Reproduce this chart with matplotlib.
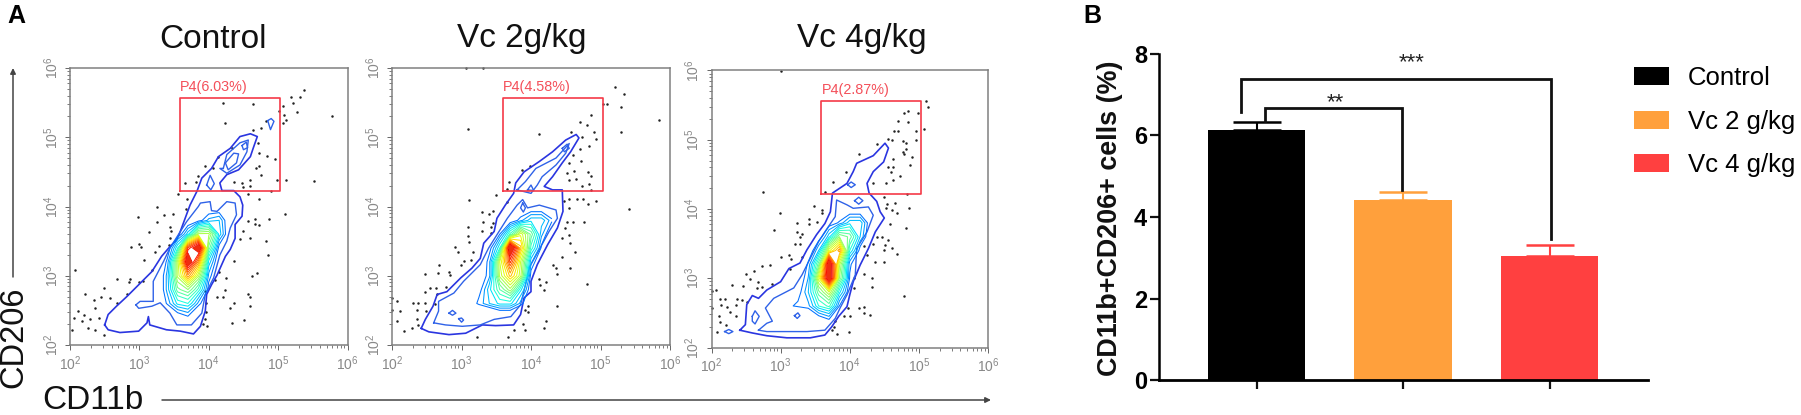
import matplotlib
matplotlib.use('Agg')
import matplotlib.pyplot as plt
import numpy as np
from matplotlib.patches import FancyArrowPatch

plt.rcParams['font.family'] = ['Liberation Sans', 'DejaVu Sans']

W, H = 1801, 415

# flow panels: every value is log10 of the fluorescence
titles = ['Control', 'Vc 2g/kg', 'Vc 4g/kg']
gate_labels = ['P4(6.03%)', 'P4(4.58%)', 'P4(2.87%)']
gate_x = [3.59, 5.03]
gate_y = [4.22, 5.56]
tick_exps = [2, 3, 4, 5, 6]

control_dots = [
  (5.37,5.68),(5.18,5.58),(5.31,5.58),(5.22,5.49),(5.01,5.38),(5.07,5.45),(4.21,5.50),(4.64,5.48),(5.27,5.36),
  (5.09,5.32),(5.77,5.30),(5.11,5.25),(5.07,5.20),(4.24,5.20),(4.82,5.23),(4.76,5.14),(4.64,5.10),(4.71,4.91),
  (4.72,4.77),(4.84,4.73),(4.95,4.69),(4.68,4.55),(4.73,4.58),(4.75,4.46),(4.98,4.38),(5.11,4.38),(5.52,4.37),
  (4.60,4.38),(4.59,4.30),(4.48,4.34),(4.49,4.28),(4.36,4.35),(4.90,4.23),(4.57,4.18),(4.72,4.11),(3.66,4.34),
  (3.85,4.44),(3.94,4.59),(4.06,4.56),(4.13,4.71),(4.33,4.85),(3.56,4.18),(3.82,4.36),(3.68,4.11),(3.26,3.99),
  (2.98,3.85),(3.35,3.88),(3.49,3.89),(3.67,3.96),(5.10,3.89),(4.87,3.82),(4.57,3.79),(4.66,3.82),(4.67,3.75),
  (4.72,3.74),(4.50,3.65),(3.26,3.78),(3.14,3.63),(3.44,3.71),(3.46,3.65),(3.44,3.54),(4.45,3.53),(4.60,3.54),
  (4.82,3.50),(2.88,3.42),(3.00,3.46),(3.02,3.41),(3.28,3.43),(3.43,3.45),(3.23,3.34),(3.07,3.23),(3.18,3.09),
  (2.07,3.09),(4.85,3.30),(4.36,3.21),(4.70,3.04),(4.63,2.99),(2.68,2.96),(2.87,2.96),(2.85,2.91),(2.99,2.91),
  (3.05,2.92),(4.15,3.06),(4.25,2.97),(4.09,2.94),(2.49,2.82),(4.24,2.80),(2.21,2.74),(2.82,2.74),(2.45,2.70),
  (2.35,2.65),(2.58,2.68),(2.36,2.53),(2.68,2.60),(4.21,2.70),(4.12,2.70),(4.56,2.73),(4.59,2.70),(4.37,2.61),
  (4.31,2.53),(4.60,2.57),(2.11,2.49),(2.20,2.44),(2.29,2.37),(2.42,2.39),(2.17,2.34),(2.26,2.25),(2.36,2.22),
  (2.49,2.15),(2.03,2.21),(2.06,2.39),(4.51,2.36),(4.33,2.32),(3.98,2.28),(3.92,2.30),(3.96,2.61),(3.96,2.47),
  (3.94,2.37),(3.94,2.78),
]
vc2_dots = [
  (3.06,5.995),(3.31,5.995),(5.21,5.72),(5.34,5.63),(5.09,5.48),(5.03,5.48),(5.30,5.44),(4.87,5.32),(5.84,5.25),
  (4.70,5.22),(4.80,5.17),(4.90,5.08),(5.30,5.07),(4.57,5.08),(4.73,5.00),(4.94,4.98),(4.84,4.88),(4.70,4.83),
  (3.10,5.12),(4.11,5.04),(4.61,4.75),(4.72,4.65),(4.55,4.63),(4.62,4.51),(4.52,4.48),(4.82,4.50),(4.87,4.44),
  (4.54,4.38),(4.65,4.39),(4.73,4.29),(4.84,4.32),(4.87,4.24),(3.99,4.59),(3.87,4.53),(3.69,4.36),(3.66,4.25),
  (3.50,4.17),(3.11,4.10),(3.66,4.06),(4.47,4.08),(4.55,4.11),(4.66,4.11),(4.75,4.11),(4.82,4.03),(4.94,4.08),
  (5.41,3.97),(4.54,3.98),(3.30,3.92),(3.46,3.94),(3.39,3.89),(3.31,3.78),(3.46,3.76),(3.43,3.70),(3.42,3.62),
  (3.29,3.64),(3.10,3.71),(3.10,3.57),(3.11,3.49),(4.52,3.78),(4.61,3.78),(4.76,3.78),(4.49,3.69),(4.55,3.59),
  (4.45,3.54),(4.56,3.48),(2.90,3.41),(2.95,3.35),(3.16,3.34),(4.63,3.34),(3.03,3.22),(3.14,3.23),(2.99,3.16),
  (2.67,3.16),(2.66,3.04),(2.47,3.03),(2.82,3.06),(2.84,3.01),(4.44,3.27),(4.32,3.16),(4.36,3.11),(4.56,3.11),
  (4.38,3.02),(4.11,2.95),(4.22,2.91),(4.81,2.88),(2.63,2.82),(2.54,2.83),(2.77,2.84),(2.47,2.76),(2.65,2.73),
  (4.13,2.87),(4.18,2.80),(2.30,2.60),(2.38,2.60),(2.07,2.63),(2.48,2.61),(2.62,2.59),(2.11,2.49),(2.00,2.51),
  (2.36,2.50),(2.49,2.49),(2.36,2.37),(2.07,2.34),(2.38,2.29),(2.29,2.24),(2.17,2.20),(2.00,2.68),(4.38,2.57),
  (3.95,2.56),(3.92,2.51),(3.95,2.47),(4.21,2.35),(3.89,2.30),(4.18,2.25),(3.92,2.22),(3.76,2.22),(3.67,2.11),
  (3.23,2.12),
]
vc4_dots = [
  (3.00,5.99),(5.11,5.56),(5.13,5.48),(4.84,5.42),(4.78,5.39),(4.99,5.39),(4.70,5.27),(4.84,5.25),(4.64,5.12),
  (4.70,5.13),(4.96,5.13),(5.07,5.15),(4.56,5.01),(4.61,5.00),(4.40,4.94),(4.77,4.98),(4.82,4.96),(4.96,5.00),
  (4.81,4.86),(4.77,4.83),(4.13,4.79),(4.62,4.72),(4.79,4.80),(4.90,4.75),(4.55,4.61),(4.62,4.61),(4.87,4.63),
  (4.60,4.54),(4.73,4.48),(4.62,4.42),(4.53,4.37),(3.94,4.53),(3.76,4.39),(4.34,4.37),(3.64,4.24),(4.83,4.21),
  (2.75,4.24),(4.49,4.18),(4.65,4.08),(4.54,4.07),(3.49,4.05),(3.60,3.99),(3.60,3.94),(2.99,3.94),(4.86,4.01),
  (4.53,4.02),(4.68,3.94),(4.61,3.99),(3.41,3.86),(3.41,3.79),(3.24,3.80),(3.52,3.81),(4.58,3.79),(2.90,3.70),
  (4.81,3.72),(3.23,3.67),(3.31,3.64),(3.28,3.59),(3.21,3.49),(3.28,3.50),(4.39,3.60),(4.46,3.59),(4.56,3.55),
  (4.34,3.50),(4.51,3.48),(4.49,3.41),(4.68,3.35),(4.61,3.43),(4.20,3.46),(3.12,3.34),(3.00,3.30),(3.15,3.28),
  (3.31,3.31),(4.25,3.34),(4.49,3.23),(2.85,3.19),(2.73,3.17),(2.62,3.11),(2.50,3.06),(3.13,3.13),(4.37,3.24),
  (4.21,3.06),(4.06,3.01),(2.55,2.99),(4.32,3.01),(2.67,2.95),(2.30,2.90),(2.88,2.91),(2.45,2.89),(2.73,2.87),
  (2.66,2.86),(4.06,2.86),(4.32,2.88),(2.06,2.83),(4.78,2.75),(2.00,2.81),(2.13,2.70),(2.20,2.70),(2.37,2.70),
  (2.44,2.68),(2.51,2.66),(2.14,2.61),(2.23,2.59),(2.36,2.62),(3.98,2.57),(4.13,2.57),(4.21,2.58),(4.20,2.50),
  (4.29,2.47),(2.11,2.46),(2.27,2.51),(2.36,2.46),(2.21,2.32),(2.13,2.37),(3.92,2.46),(4.00,2.46),(3.79,2.38),
  (3.77,2.30),(3.74,2.25),(2.08,2.22),(3.81,2.20),(3.99,2.22),(2.00,2.57),
]

# outer contours, read by eye
control_outer = [
  (2.50,2.29),(2.55,2.44),(2.67,2.56),(2.82,2.70),(2.99,2.87),(3.18,3.06),(3.32,3.28),(3.44,3.42),(3.54,3.52),
  (3.59,3.64),(3.66,3.83),(3.73,4.02),(3.83,4.22),(3.90,4.41),(4.04,4.55),(4.14,4.72),(4.31,4.84),(4.45,5.01),
  (4.60,5.05),(4.70,5.01),(4.64,4.84),(4.60,4.72),(4.43,4.53),(4.26,4.46),(4.16,4.34),(4.19,4.23),(4.36,4.23),
  (4.45,4.14),(4.49,4.02),(4.48,3.86),(4.38,3.74),(4.38,3.54),(4.31,3.38),(4.24,3.28),(4.12,3.01),(4.04,2.87),
  (3.97,2.73),(3.95,2.49),(3.88,2.27),(3.78,2.16),(3.59,2.20),(3.39,2.22),(3.15,2.29),(3.13,2.41),(3.11,2.32),
  (2.99,2.20),(2.72,2.18),(2.55,2.22),
]
control_second = [
  (2.95,2.58),(3.01,2.63),(3.20,2.63),(3.20,2.92),(3.35,3.21),(3.44,3.40),(3.56,3.59),(3.68,3.78),(3.85,4.00),
  (3.88,4.05),(4.02,4.07),(4.04,3.94),(4.12,3.93),(4.26,4.07),(4.38,4.05),(4.40,3.88),(4.31,3.69),(4.26,3.50),
  (4.16,3.30),(4.07,2.97),(3.95,2.73),(3.90,2.46),(3.75,2.29),(3.54,2.29),(3.44,2.46),(3.30,2.61),(3.18,2.56),
  (2.99,2.53),
]
control_islands = [
  [(3.97,4.31),(4.02,4.45),(4.08,4.33),(4.03,4.24)],
  [(4.24,4.63),(4.36,4.77),(4.43,4.76),(4.40,4.63),(4.28,4.53)],
  [(4.48,4.88),(4.54,4.93),(4.56,4.85),(4.50,4.82)],
  [(4.85,5.24),(4.90,5.27),(4.94,5.23),(4.89,5.11)],
  [(4.21,4.55),(4.26,4.75),(4.45,4.92),(4.57,4.96),(4.55,4.79),(4.45,4.60),(4.26,4.48),(4.16,4.55)],
]
vc2_outer = [
  (2.42,2.24),(2.48,2.37),(2.59,2.56),(2.65,2.73),(2.79,2.77),(2.99,2.97),(3.15,3.11),(3.27,3.25),(3.32,3.47),
  (3.47,3.64),(3.51,3.83),(3.63,4.02),(3.75,4.19),(3.78,4.34),(3.90,4.50),(4.12,4.65),(4.31,4.79),(4.50,4.96),
  (4.65,5.04),(4.69,4.99),(4.57,4.79),(4.45,4.63),(4.31,4.43),(4.19,4.29),(4.31,4.24),(4.45,4.24),(4.46,3.93),
  (4.38,3.69),(4.24,3.45),(4.09,3.16),(4.00,2.92),(4.00,2.77),(3.90,2.68),(3.85,2.44),(3.75,2.29),(3.49,2.28),
  (3.30,2.29),(3.06,2.17),(2.82,2.15),(2.53,2.19),
]
vc2_second = [
  (2.60,2.32),(2.67,2.49),(2.67,2.63),(2.89,2.75),(3.03,2.92),(3.27,3.16),(3.39,3.40),(3.54,3.64),(3.66,3.83),
  (3.80,4.02),(3.88,4.10),(3.95,3.98),(4.12,4.02),(4.36,3.95),(4.38,3.83),(4.26,3.64),(4.12,3.38),(3.97,3.11),
  (3.92,2.87),(3.85,2.58),(3.71,2.41),(3.47,2.37),(3.27,2.29),(3.01,2.27),(2.77,2.29),
]
vc2_islands = [
  [(3.80,4.24),(3.92,4.36),(4.07,4.55),(4.36,4.70),(4.55,4.91),(4.50,4.77),(4.36,4.60),(4.16,4.43),(4.09,4.31),(4.00,4.19)],
  [(2.82,2.46),(2.87,2.50),(2.92,2.46),(2.87,2.43)],
  [(4.45,4.84),(4.52,4.90),(4.55,4.84),(4.48,4.79)],
  [(3.88,4.05),(3.92,3.98),(3.89,3.92),(3.85,3.98)],
  [(3.95,4.24),(4.00,4.31),(4.04,4.23)],
  [(2.96,2.38),(3.00,2.39),(3.03,2.36),(3.00,2.33)],
]
vc4_outer = [
  (2.41,2.25),(2.49,2.33),(2.51,2.62),(2.59,2.75),(2.68,2.71),(2.80,2.83),(3.00,2.95),(3.12,3.14),(3.28,3.22),
  (3.38,3.41),(3.52,3.63),(3.64,3.79),(3.72,3.96),(3.75,4.23),(3.96,4.37),(4.05,4.54),(4.10,4.66),(4.34,4.77),
  (4.51,4.95),(4.56,4.88),(4.49,4.68),(4.34,4.54),(4.25,4.37),(4.28,4.23),(4.39,4.11),(4.44,3.96),(4.50,3.87),
  (4.37,3.67),(4.27,3.43),(4.15,3.19),(4.05,2.95),(4.00,2.76),(3.96,2.59),(3.84,2.45),(3.74,2.30),(3.64,2.18),
  (3.43,2.14),(3.09,2.14),(2.80,2.17),(2.59,2.21),
]
vc4_second = [
  (2.68,2.25),(2.80,2.35),(2.88,2.38),(2.78,2.57),(2.90,2.71),(3.19,2.86),(3.31,3.05),(3.43,3.29),(3.55,3.53),
  (3.64,3.67),(3.79,3.89),(3.81,4.13),(3.96,4.06),(4.05,4.01),(4.27,4.03),(4.34,3.91),(4.25,3.67),(4.10,3.43),
  (4.08,3.05),(3.96,2.76),(3.86,2.57),(3.79,2.42),(3.64,2.25),(3.38,2.23),(3.09,2.23),(2.80,2.23),
]
vc4_islands = [
  [(2.19,2.23),(2.25,2.26),(2.31,2.23),(2.25,2.20)],
  [(2.59,2.45),(2.63,2.53),(2.69,2.45),(2.63,2.34),(2.59,2.38)],
  [(3.20,2.46),(3.25,2.50),(3.28,2.46),(3.24,2.42)],
  [(3.97,4.35),(4.02,4.39),(4.08,4.35),(4.02,4.31)],
  [(4.07,4.12),(4.13,4.17),(4.19,4.12),(4.13,4.07)],
]

# event density in the dense core, estimated from the contour rings
core_x = [3.1, 3.25, 3.4, 3.55, 3.7, 3.85, 4.0, 4.15, 4.3]
core_y = [2.4, 2.6, 2.8, 3.0, 3.2, 3.4, 3.6, 3.8, 4.0]
control_core = [
  [0, 0, 0, 2, 2.8, 1, 0, 0, 0],
  [0, 1, 3.2, 5.5, 6, 3.5, 1, 0, 0],
  [0, 1.5, 4, 8, 9, 6.5, 2.5, 0.5, 0],
  [0, 1.5, 4, 10, 14, 10, 3.5, 1, 0],
  [0, 1.5, 3.2, 10, 19, 14, 5, 1.5, 0],
  [0, 1, 2, 6, 16, 19, 8, 2.5, 1],
  [0, 0.5, 1, 2, 5, 10, 10, 5, 1.5],
  [0, 0, 0, 1, 1.5, 2.5, 4, 4.5, 1.5],
  [0, 0, 0, 0.5, 1, 1.5, 1.5, 1.5, 1],
]
vc2_core = [
  [0, 0, 0, 1, 1, 0.5, 0, 0, 0],
  [2, 3.3, 4.5, 5.5, 5.5, 3.5, 1, 0, 0],
  [1, 2.5, 5, 7.5, 9.5, 5.5, 2, 0.5, 0],
  [1, 2, 3.5, 10, 13, 10, 2.5, 0.5, 0],
  [0.5, 1.5, 3.5, 10.5, 16, 10.5, 4, 1, 0],
  [0, 1, 2.5, 6, 19.5, 13, 6.5, 2.8, 1],
  [0, 0.5, 1, 3, 7, 11, 8, 4, 1.5],
  [0, 0, 0.5, 1, 2, 3.5, 5, 5, 3.2],
  [0, 0, 0, 0.5, 1, 1, 1.5, 1.5, 1],
]
vc4_core = [
  [0, 0, 1, 2, 2.9, 2, 0.5, 0, 0],
  [2.8, 3.2, 3.5, 6, 7, 3, 1, 0, 0],
  [1, 2.5, 4.5, 8, 10.5, 5.5, 2, 0.5, 0],
  [1, 2, 3.8, 11, 19, 9, 2.9, 1, 0],
  [0.5, 1.5, 3.2, 8, 19, 10, 3.2, 1.5, 0],
  [0, 1, 2, 4.5, 11, 14, 6, 2.5, 1],
  [0, 0.5, 1, 2.2, 5, 9, 8, 4.5, 1.5],
  [0, 0, 0.5, 1, 2.2, 3.2, 5, 5, 2],
  [0, 0, 0, 0.5, 1, 1, 1.5, 1.5, 1],
]

# bar panel
groups = ['Control', 'Vc 2 g/kg', 'Vc 4 g/kg']
means = [6.13, 4.42, 3.04]
errors = [0.2, 0.19, 0.27]
bar_colors = ['#000000', '#ffa03c', '#ff4040']
bracket_low_x = [0.06, 0.06, 0.99, 0.99]
bracket_low_y = [6.36, 6.67, 6.67, 4.66]
bracket_high_x = [-0.106, -0.106, 2.01, 2.01]
bracket_high_y = [6.58, 7.38, 7.38, 3.46]


def px_axes(fig, left, top, right, bottom):
  return fig.add_axes([left / W, 1 - bottom / H, (right - left) / W, (bottom - top) / H])


def draw_ring(ax, ring, color, lw=1.1):
  pts = np.array(list(ring) + [ring[0]])
  ax.plot(10 ** pts[:, 0], 10 ** pts[:, 1], color=color, lw=lw, zorder=3)


def flow_panel(fig, box, dots, outer, second, islands, core, gate_label):
  ax = px_axes(fig, *box)
  ax.set_xscale('log')
  ax.set_yscale('log')
  ax.set_xlim(1e2, 1e6)
  ax.set_ylim(1e2, 1e6)

  dots = np.array(dots)
  ax.scatter(10 ** dots[:, 0], 10 ** dots[:, 1], s=3.2, color='#222222', linewidths=0, zorder=2, clip_on=False)

  draw_ring(ax, outer, '#2a35e0', 1.2)
  draw_ring(ax, second, '#2f62e8', 1.0)
  for ring in islands:
    draw_ring(ax, ring, '#2f62e8', 1.0)

  ax.contour(10 ** np.array(core_x), 10 ** np.array(core_y), np.array(core),
             levels=np.arange(3, 19, 0.75), cmap='jet', vmin=-2, vmax=19, linewidths=0.75, zorder=4)
  ax.contourf(10 ** np.array(core_x), 10 ** np.array(core_y), np.array(core),
              levels=[17.5, 30], colors=['#f02c10'], zorder=5)

  gx = [gate_x[0], gate_x[1], gate_x[1], gate_x[0], gate_x[0]]
  gy = [gate_y[0], gate_y[0], gate_y[1], gate_y[1], gate_y[0]]
  ax.plot(10 ** np.array(gx), 10 ** np.array(gy), color='#f53a48', lw=1.2, zorder=6)
  ax.text(10 ** gate_x[0], 10 ** (gate_y[1] + 0.06), gate_label, color='#f4505a', fontsize=10.4, va='bottom', ha='left')

  labels = ['$\\mathregular{10^{%d}}$' % e for e in tick_exps]
  ax.set_xticks([10.0 ** e for e in tick_exps], labels)
  ax.set_yticks([10.0 ** e for e in tick_exps], labels)
  ax.tick_params(axis='both', which='major', length=3.6, width=0.7, color='#666666', labelcolor='#888888', labelsize=10, pad=3)
  ax.tick_params(axis='both', which='minor', length=2, width=0.6, color='#666666')
  plt.setp(ax.get_yticklabels(), rotation=90, va='center')
  for side in ax.spines.values():
    side.set_color('#808080')
    side.set_linewidth(1.1)
  return ax


def bar_panel(fig):
  ax = px_axes(fig, 1159, 54, 1648, 380)
  x = np.arange(len(groups))
  bars = ax.bar(x, means, width=0.665, color=bar_colors, zorder=2)
  for i in x:
    ax.errorbar(i, means[i], yerr=[[0], [errors[i]]], color=bar_colors[i], capsize=17, capthick=1.8, elinewidth=1.5, zorder=2)
  ax.plot(bracket_low_x, bracket_low_y, color='#111111', lw=2, solid_joinstyle='miter', zorder=3)
  ax.plot(bracket_high_x, bracket_high_y, color='#111111', lw=2, solid_joinstyle='miter', zorder=3)
  ax.text(0.54, 6.8, '**', fontsize=16, ha='center', va='center', color='#222222')
  ax.text(1.06, 7.78, '***', fontsize=16, ha='center', va='center', color='#222222')

  ax.set_xlim(-0.666, 2.672)
  ax.set_ylim(0, 8)
  ax.set_xticks(x, [''] * len(x))
  ax.set_yticks([0, 2, 4, 6, 8])
  ax.tick_params(axis='both', length=6.5, width=1.6, color='#111111')
  ax.tick_params(axis='y', labelsize=17, pad=2)
  for lab in ax.get_yticklabels():
    lab.set_fontweight('bold')
  ax.spines['top'].set_visible(False)
  ax.spines['right'].set_visible(False)
  ax.spines['left'].set_linewidth(1.8)
  ax.spines['bottom'].set_linewidth(2)

  fig.legend(bars, groups, loc='upper left', bbox_to_anchor=(1634 / W, 1 - 66 / H), frameon=False,
             fontsize=18.5, handlelength=1.36, handleheight=0.7, handletextpad=0.74, labelspacing=0.76, borderpad=0, borderaxespad=0)


def px_text(fig, x, y, s, **kw):
  fig.text(x / W, 1 - y / H, s, ha='center', va='center', **kw)


def px_arrow(fig, start, end):
  a = (start[0] / W, 1 - start[1] / H)
  b = (end[0] / W, 1 - end[1] / H)
  fig.add_artist(FancyArrowPatch(a, b, transform=fig.transFigure, arrowstyle='-|>', mutation_scale=8,
                                 lw=1.1, color='#444444', shrinkA=0, shrinkB=0))


if __name__ == '__main__':
  fig = plt.figure(figsize=(W / 100, H / 100), dpi=100)

  flow_panel(fig, (70, 68, 347.5, 345), control_dots, control_outer, control_second, control_islands, control_core, gate_labels[0])
  flow_panel(fig, (392, 68, 670, 345), vc2_dots, vc2_outer, vc2_second, vc2_islands, vc2_core, gate_labels[1])
  flow_panel(fig, (711.5, 70.5, 988, 347.5), vc4_dots, vc4_outer, vc4_second, vc4_islands, vc4_core, gate_labels[2])
  bar_panel(fig)

  for cx, title in zip([213, 522, 862], titles):
    px_text(fig, cx, 39, title, fontsize=24, color='#111111')
  px_text(fig, 16, 16, 'A', fontsize=18, fontweight='bold')
  px_text(fig, 1092, 16, 'B', fontsize=18, fontweight='bold')
  px_text(fig, 14, 337, 'CD206', fontsize=23.5, rotation=90, color='#111111')
  px_text(fig, 93, 400, 'CD11b', fontsize=24, color='#111111')
  px_text(fig, 1110, 218, 'CD11b+CD206+ cells (%)', fontsize=19.4, fontweight='bold', rotation=90, color='#111111')

  px_arrow(fig, (13, 277), (13, 68))
  px_arrow(fig, (162, 400), (991, 400))

  fig.savefig('out.png', dpi=100)
